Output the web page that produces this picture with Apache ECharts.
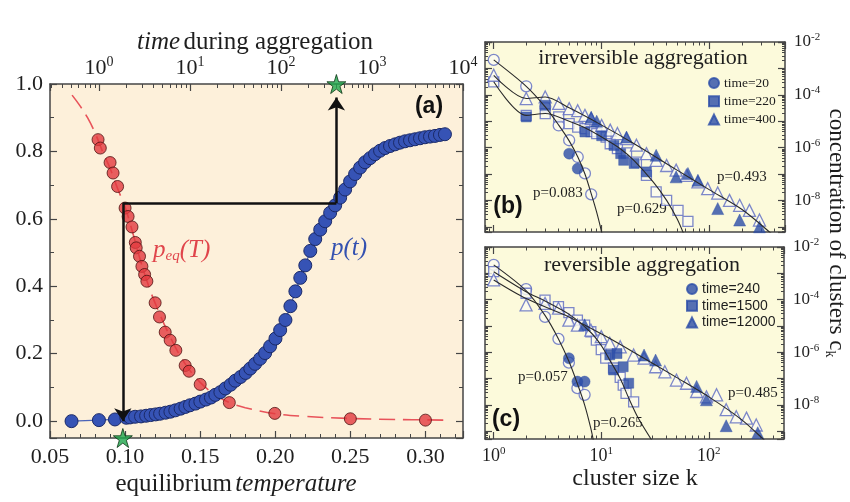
<!DOCTYPE html>
<html>
<head>
<meta charset="utf-8">
<script src="https://cdn.jsdelivr.net/npm/echarts@6/dist/echarts.min.js"></script>
<style>
	html, body { margin: 0; padding: 0; background: #fff; }
	#main { width: 850px; height: 502px; }
</style>
</head>
<body>
<div id="main"></div>
<script>
// panel (a) -- equilibrium p_eq(T)
const tempT = [0.082, 0.0835, 0.090, 0.092, 0.095, 0.100, 0.102, 0.1046, 0.1068, 0.1074, 0.1096, 0.1112, 0.113, 0.1145, 0.120, 0.1229, 0.1267, 0.130, 0.1338, 0.140, 0.1426, 0.150, 0.1694, 0.1997, 0.250, 0.300];
const peqT = [0.835, 0.81, 0.767, 0.736, 0.696, 0.632, 0.607, 0.576, 0.53, 0.514, 0.489, 0.459, 0.435, 0.415, 0.351, 0.309, 0.264, 0.24, 0.21, 0.165, 0.148, 0.109, 0.055, 0.023, 0.007, 0.003];
const peqFitT = [0.0647, 0.07, 0.075, 0.08, 0.085, 0.09, 0.095, 0.1, 0.105, 0.11, 0.115, 0.12, 0.13, 0.14, 0.15, 0.16, 0.17, 0.18, 0.2, 0.22, 0.25, 0.28, 0.315];
const peqFitP = [0.967, 0.935, 0.9, 0.855, 0.8, 0.75, 0.69, 0.635, 0.56, 0.48, 0.41, 0.35, 0.25, 0.17, 0.115, 0.078, 0.054, 0.04, 0.022, 0.014, 0.008, 0.005, 0.003];

// panel (a) -- p(t) during aggregation
const timeT = [0.5, 1, 1.5, 2.0, 2.2, 2.5, 2.9, 3.3, 3.7, 4.2, 4.7, 5.4, 6.1, 6.9, 7.9, 8.9, 10, 11.5, 13, 15, 17, 19, 21.6, 24.5, 28, 31.5, 36, 41, 46, 52, 59, 67, 76, 87, 98, 112, 127, 144, 163, 185, 210, 238, 270, 306, 347, 394, 447, 507, 575, 653, 741, 840, 953, 1081, 1227, 1392, 1579, 1792, 2033, 2307, 2617, 2969, 3369, 3822, 4337, 4920, 5582, 6333];
const pTime = [0, 0.003, 0.005, 0.010, 0.011, 0.013, 0.014, 0.016, 0.018, 0.020, 0.022, 0.025, 0.028, 0.032, 0.037, 0.042, 0.047, 0.052, 0.058, 0.064, 0.070, 0.078, 0.086, 0.097, 0.108, 0.120, 0.131, 0.143, 0.156, 0.170, 0.185, 0.202, 0.222, 0.245, 0.270, 0.300, 0.341, 0.385, 0.425, 0.462, 0.505, 0.540, 0.568, 0.593, 0.618, 0.640, 0.663, 0.687, 0.711, 0.733, 0.752, 0.768, 0.780, 0.792, 0.802, 0.810, 0.816, 0.821, 0.826, 0.830, 0.833, 0.836, 0.839, 0.842, 0.844, 0.846, 0.849, 0.851];

// arrow construction (T of the two verticals, p levels)
const arrowT = [0.0985, 0.2407];
const arrowP = [0.647, 0.0, 0.96];
const starP = [1.0, -0.05];

// panel (b) irreversible aggregation
const bCircK = [1, 2, 3, 4, 5, 6, 7, 8];
const bCircC = [2.1e-3, 2.1e-4, 3.5e-5, 6.9e-6, 1.9e-6, 4.4e-7, 1.05e-7, 1.7e-8];
const bCircFilledK = [5, 6];
const bCircFilledC = [5.9e-7, 1.6e-7];
const bCircFitK = [1, 2, 3, 4, 5, 6, 7, 8, 9, 10, 10.5];
const bCircFitC = [2.1e-3, 2.1e-4, 3.5e-5, 7.1e-6, 1.8e-6, 4.5e-7, 1.0e-7, 1.8e-8, 3.5e-9, 6.3e-10, 2.5e-10];

const bSqK = [1, 2, 3, 4, 5, 6, 7, 8, 9, 11, 12, 14, 17, 21, 26, 32, 40, 51, 63];
const bSqC = [3.1e-4, 1.66e-5, 1.95e-5, 1.45e-5, 8.1e-6, 6.0e-6, 5.2e-6, 4.0e-6, 3.4e-6, 2.5e-6, 1.4e-6, 9.1e-7, 6.3e-7, 2.8e-7, 8.9e-8, 2.1e-8, 1.0e-8, 4.2e-9, 1.6e-9];
const bSqFilledK = [2, 3, 7, 10, 13, 15, 16, 20, 26];
const bSqFilledC = [1.45e-5, 4.0e-5, 3.9e-6, 2.8e-6, 1.2e-6, 5.9e-7, 3.3e-7, 2.5e-7, 1.2e-7];
const bSqFitK = [1, 2, 3, 5, 7, 10, 15, 20, 30, 40, 50, 58];
const bSqFitC = [3.1e-4, 1.66e-5, 1.95e-5, 1.0e-5, 5.6e-6, 2.5e-6, 8.9e-7, 3.2e-7, 5.0e-8, 1.0e-8, 2.0e-9, 5.0e-10];

const bTriK = [1, 2, 3, 4, 5, 6, 7, 8, 10, 12, 14, 17, 21, 26, 32, 40, 49, 61, 78, 96, 119, 153, 190, 234, 290];
const bTriC = [5.5e-4, 7.2e-5, 8.3e-5, 4.7e-5, 3.0e-5, 2.5e-5, 1.66e-5, 1.26e-5, 6.9e-6, 4.6e-6, 3.4e-6, 2.2e-6, 1.23e-6, 5.9e-7, 3.3e-7, 2.1e-7, 1.4e-7, 8.9e-8, 5.0e-8, 2.8e-8, 1.9e-8, 1.0e-8, 6.5e-9, 4.2e-9, 1.8e-9];
const bTriFilledK = [8, 9, 17, 32, 49, 63, 78, 119, 190, 290];
const bTriFilledC = [1.4e-5, 1.0e-5, 2.5e-6, 5.1e-7, 7.8e-8, 1.05e-7, 5.8e-8, 4.9e-9, 1.8e-9, 1.0e-9];
const bTriFitK = [1, 2, 3, 5, 10, 20, 50, 100, 200, 360, 420];
const bTriFitC = [5.5e-4, 7.2e-5, 8.3e-5, 3.2e-5, 7.1e-6, 1.4e-6, 1.4e-7, 2.5e-8, 4.5e-9, 6.3e-10, 3.5e-10];

// panel (c) reversible aggregation
const cCircK = [1, 2, 3, 4, 5, 6, 7];
const cCircC = [2.1e-3, 2.5e-4, 2.2e-5, 3.2e-6, 4.0e-7, 4.3e-8, 2.4e-8];
const cCircFilledK = [5, 6, 7];
const cCircFilledC = [5.9e-7, 7.6e-8, 7.6e-8];
const cCircFitK = [1, 2, 3, 4, 5, 6, 7, 8, 8.6];
const cCircFitC = [2.1e-3, 2.2e-4, 2.5e-5, 3.2e-6, 4.5e-7, 6.3e-8, 1.0e-8, 1.26e-9, 3.0e-10];

const cSqK = [1, 2, 3, 4, 5, 6, 7, 8, 9, 10, 11, 13, 15, 16, 17, 20];
const cSqC = [1.15e-3, 1.74e-4, 9.5e-5, 5.4e-5, 3.2e-5, 1.66e-5, 1.07e-5, 6.0e-6, 2.9e-6, 1.26e-6, 5.9e-7, 2.5e-7, 1.1e-7, 5.6e-8, 2.7e-8, 1.3e-8];
const cSqFilledK = [12, 13, 14, 16, 18];
const cSqFilledC = [7.9e-7, 2.1e-7, 8.9e-7, 2.8e-7, 6.6e-8];
const cSqFitK = [1, 2, 3, 5, 8, 10, 12, 15, 18, 22, 30];
const cSqFitC = [1.15e-3, 2.0e-4, 8.9e-5, 2.8e-5, 5.6e-6, 1.8e-6, 5.0e-7, 1.0e-7, 1.8e-8, 3.2e-9, 4.0e-10];

const cTriK = [1, 2, 3, 4, 5, 6, 8, 10, 12, 15, 20, 25, 32, 39, 50, 62, 77, 95, 118, 145, 180, 224, 276];
const cTriC = [5.6e-4, 6.3e-5, 7.2e-5, 4.7e-5, 1.66e-5, 1.07e-5, 6.9e-6, 3.9e-6, 2.2e-6, 1.6e-6, 7.8e-7, 5.9e-7, 2.8e-7, 1.8e-7, 8.7e-8, 6.6e-8, 3.2e-8, 2.0e-8, 2.4e-8, 6.5e-9, 3.5e-9, 3.1e-9, 1.7e-9];
const cTriFilledK = [7, 25, 32, 77, 95, 145, 285];
const cTriFilledC = [1.1e-5, 7.8e-7, 5.0e-7, 5.0e-8, 1.55e-8, 1.6e-9, 8.7e-10];
const cTriFitK = [1, 2, 5, 10, 20, 50, 100, 200, 320, 380];
const cTriFitC = [5.6e-4, 1.1e-4, 2.2e-5, 5.0e-6, 1.0e-6, 1.1e-7, 2.0e-8, 2.8e-9, 5.0e-10, 2.5e-10];

const legendB = ['time=20', 'time=220', 'time=400'];
const legendC = ['time=240', 'time=1500', 'time=12000'];

// styling
const serif = "Liberation Serif";
const sans = "Liberation Sans";
const frameColor = '#454545';
const textColor = '#1e1e1e';
const openStroke = '#5d6ac2';
const openFill = '#fbfbf0';
const filledBlue = '#2b4ca8';

const zip = (xs, ys) => xs.map((x, i) => [x, ys[i]]);

function frame(extra) {
	return Object.assign({
		axisLine: { show: true, onZero: false, lineStyle: { color: frameColor, width: 1.5 } },
		axisTick: { show: true, inside: true, length: 7, lineStyle: { color: frameColor, width: 1.2 } },
		minorTick: { show: true, length: 3.5, lineStyle: { color: frameColor, width: 1 } },
		splitLine: { show: false },
		axisLabel: { show: false }
	}, extra);
}

function powLabel(evenOnly) {
	return function (v) {
		const e = Math.log10(v);
		const n = Math.round(e);
		if (Math.abs(e - n) > 1e-6) return '';
		if (evenOnly && n % 2 !== 0) return '';
		return '{b|10}{s|' + n + '}';
	};
}

function powRich(size) {
	return {
		b: { fontFamily: serif, fontSize: size, color: textColor },
		s: { fontFamily: serif, fontSize: Math.round(size * 0.62), color: textColor, padding: [0, 0, Math.round(size * 0.55), 0] }
	};
}

const numRich = { t: { fontFamily: serif, fontSize: 22, color: textColor } };

function openSeries(name, symbol, size, data, xi) {
	return {
		name: name, type: 'scatter', xAxisIndex: xi, yAxisIndex: xi,
		symbol: symbol, symbolSize: size, data: data,
		itemStyle: { color: openFill, borderColor: openStroke, borderWidth: 1.3 },
		z: 3
	};
}

function filledSeries(name, symbol, size, data, xi) {
	return {
		name: name, type: 'scatter', xAxisIndex: xi, yAxisIndex: xi,
		symbol: symbol, symbolSize: size, data: data,
		itemStyle: { color: filledBlue, borderColor: filledBlue, borderWidth: 0.5 },
		z: 4
	};
}

function fitSeries(data, xi) {
	return {
		type: 'line', xAxisIndex: xi, yAxisIndex: xi, data: data,
		showSymbol: false, smooth: 0.3, clip: true,
		lineStyle: { color: '#2a2a2a', width: 1.1 },
		z: 5, silent: true
	};
}

const starPath = 'path://M50,0 L61,35 L98,35 L68,57 L79,91 L50,70 L21,91 L32,57 L2,35 L39,35 Z';

const myChart = echarts.init(document.getElementById('main'));

const option = {
	animation: false,
	backgroundColor: '#ffffff',
	textStyle: { fontFamily: serif, color: textColor },
	grid: [
		{ left: 50, top: 84, width: 413, height: 354, show: true, backgroundColor: '#fdf0da', borderWidth: 0 },
		{ left: 485, top: 42, width: 300, height: 190, show: true, backgroundColor: '#fcfadb', borderWidth: 0 },
		{ left: 485, top: 247, width: 299, height: 192, show: true, backgroundColor: '#fcfadb', borderWidth: 0 }
	],
	xAxis: [
		frame({
			gridIndex: 0, type: 'value', position: 'bottom', min: 0.05, max: 0.325, interval: 0.05,
			minorTick: { show: true, splitNumber: 5, length: 4, lineStyle: { color: frameColor, width: 1 } },
			axisLabel: {
				show: true, margin: 8, rich: numRich,
				formatter: (v) => (Math.abs(v * 20 - Math.round(v * 20)) < 1e-6 ? '{t|' + v.toFixed(2) + '}' : '')
			}
		}),
		frame({
			gridIndex: 0, type: 'log', logBase: 10, position: 'top', min: 0.29, max: 10000,
			minorTick: { show: true, splitNumber: 9, length: 4, lineStyle: { color: frameColor, width: 1 } },
			axisLabel: { show: true, margin: 3, formatter: powLabel(false), rich: powRich(22) }
		}),
		frame({ gridIndex: 1, type: 'log', position: 'bottom', min: 0.83, max: 500, minorTick: { show: true, splitNumber: 9, length: 3.5, lineStyle: { color: frameColor } } }),
		frame({ gridIndex: 1, type: 'log', position: 'top', min: 0.83, max: 500, minorTick: { show: true, splitNumber: 9, length: 3.5, lineStyle: { color: frameColor } } }),
		frame({
			gridIndex: 2, type: 'log', position: 'bottom', min: 0.83, max: 500,
			minorTick: { show: true, splitNumber: 9, length: 3.5, lineStyle: { color: frameColor } },
			axisLabel: { show: true, margin: 7, formatter: powLabel(false), rich: powRich(18) }
		}),
		frame({ gridIndex: 2, type: 'log', position: 'top', min: 0.83, max: 500, minorTick: { show: true, splitNumber: 9, length: 3.5, lineStyle: { color: frameColor } } })
	],
	yAxis: [
		frame({
			gridIndex: 0, type: 'value', position: 'left', min: -0.05, max: 1.0,
			minorTick: { show: true, splitNumber: 2, length: 4, lineStyle: { color: frameColor, width: 1 } },
			axisLabel: {
				show: true, margin: 7, rich: numRich,
				formatter: (v) => (v < -0.001 ? '' : '{t|' + v.toFixed(1) + '}')
			}
		}),
		frame({
			gridIndex: 0, type: 'value', position: 'right', min: -0.05, max: 1.0,
			minorTick: { show: true, splitNumber: 2, length: 4, lineStyle: { color: frameColor, width: 1 } }
		}),
		frame({
			gridIndex: 1, type: 'log', position: 'right', min: 6.35e-10, max: 0.01,
			minorTick: { show: true, splitNumber: 9, length: 3, lineStyle: { color: frameColor } },
			axisLabel: { show: true, margin: 9, formatter: powLabel(true), rich: powRich(17) }
		}),
		frame({ gridIndex: 1, type: 'log', position: 'left', min: 6.35e-10, max: 0.01, minorTick: { show: true, splitNumber: 9, length: 3, lineStyle: { color: frameColor } } }),
		frame({
			gridIndex: 2, type: 'log', position: 'right', min: 5.0e-10, max: 0.01,
			minorTick: { show: true, splitNumber: 9, length: 3, lineStyle: { color: frameColor } },
			axisLabel: { show: true, margin: 9, formatter: powLabel(true), rich: powRich(17) }
		}),
		frame({ gridIndex: 2, type: 'log', position: 'left', min: 5.0e-10, max: 0.01, minorTick: { show: true, splitNumber: 9, length: 3, lineStyle: { color: frameColor } } })
	],
	legend: [
		{
			data: legendB, left: 708, top: 76, orient: 'vertical', itemWidth: 10, itemHeight: 10, itemGap: 4.3,
			selectedMode: false, padding: 0,
			formatter: (name) => '{t|' + name + '}',
			textStyle: { rich: { t: { fontFamily: serif, fontSize: 13.5, lineHeight: 14, color: textColor } } }
		},
		{
			data: legendC, left: 686, top: 282, orient: 'vertical', itemWidth: 10, itemHeight: 10, itemGap: 2.8,
			selectedMode: false, padding: 0,
			formatter: (name) => '{t|' + name + '}',
			textStyle: { rich: { t: { fontFamily: sans, fontSize: 14, lineHeight: 14, color: textColor } } }
		}
	],
	series: [
		// panel (a)
		{
			type: 'line', xAxisIndex: 0, yAxisIndex: 0, data: zip(peqFitT, peqFitP),
			showSymbol: false, smooth: 0.4, silent: true,
			lineStyle: { color: '#e8535a', width: 1.6, type: [16, 8] }, z: 2
		},
		{
			type: 'scatter', xAxisIndex: 0, yAxisIndex: 0, data: zip(tempT, peqT),
			symbol: 'circle', symbolSize: 12,
			itemStyle: { color: '#e2393f', borderColor: '#4d1212', borderWidth: 1 }, z: 3
		},
		{
			type: 'line', xAxisIndex: 1, yAxisIndex: 0, data: zip(timeT, pTime),
			symbol: 'circle', symbolSize: 13, showAllSymbol: true,
			lineStyle: { color: '#4a63b8', width: 1.2 },
			itemStyle: { color: '#3653b5', borderColor: '#1b2a68', borderWidth: 1 }, z: 4
		},
		{
			type: 'lines', coordinateSystem: 'cartesian2d', xAxisIndex: 0, yAxisIndex: 0, silent: true,
			lineStyle: { color: '#111', width: 2.5, opacity: 1 },
			data: [{ coords: [[arrowT[0], arrowP[0]], [arrowT[1], arrowP[0]]] }], z: 6
		},
		{
			type: 'lines', coordinateSystem: 'cartesian2d', xAxisIndex: 0, yAxisIndex: 0, silent: true,
			symbol: ['none', 'arrow'], symbolSize: 13,
			lineStyle: { color: '#111', width: 2.5, opacity: 1 },
			data: [
				{ coords: [[arrowT[0], arrowP[0]], [arrowT[0], arrowP[1]]] },
				{ coords: [[arrowT[1], arrowP[0]], [arrowT[1], arrowP[2]]] }
			], z: 6
		},
		{
			type: 'scatter', xAxisIndex: 0, yAxisIndex: 0, clip: false,
			data: [[arrowT[1], starP[0]], [arrowT[0], starP[1]]],
			symbol: starPath, symbolSize: 19,
			itemStyle: { color: '#1ea64b', borderColor: '#0b3514', borderWidth: 1 }, z: 10
		},

		// panel (b)
		openSeries('open20', 'circle', 11, zip(bCircK, bCircC), 2),
		openSeries('open220', 'rect', 10, zip(bSqK, bSqC), 2),
		openSeries('open400', 'triangle', 12, zip(bTriK, bTriC), 2),
		filledSeries(legendB[0], 'circle', 11, zip(bCircFilledK, bCircFilledC), 2),
		filledSeries(legendB[1], 'rect', 10, zip(bSqFilledK, bSqFilledC), 2),
		filledSeries(legendB[2], 'triangle', 12, zip(bTriFilledK, bTriFilledC), 2),
		fitSeries(zip(bCircFitK, bCircFitC), 2),
		fitSeries(zip(bSqFitK, bSqFitC), 2),
		fitSeries(zip(bTriFitK, bTriFitC), 2),

		// panel (c)
		openSeries('open240', 'circle', 11, zip(cCircK, cCircC), 4),
		openSeries('open1500', 'rect', 10, zip(cSqK, cSqC), 4),
		openSeries('open12000', 'triangle', 12, zip(cTriK, cTriC), 4),
		filledSeries(legendC[0], 'circle', 11, zip(cCircFilledK, cCircFilledC), 4),
		filledSeries(legendC[1], 'rect', 10, zip(cSqFilledK, cSqFilledC), 4),
		filledSeries(legendC[2], 'triangle', 12, zip(cTriFilledK, cTriFilledC), 4),
		fitSeries(zip(cCircFitK, cCircFitC), 4),
		fitSeries(zip(cSqFitK, cSqFitC), 4),
		fitSeries(zip(cTriFitK, cTriFitC), 4)
	],
	graphic: [
		{
			type: 'text', x: 255, y: 42,
			style: {
				text: '{i|time} {r|during aggregation}', align: 'center', verticalAlign: 'middle',
				rich: {
					i: { fontFamily: serif, fontSize: 25, fontStyle: 'italic', fill: textColor },
					r: { fontFamily: serif, fontSize: 25, fill: textColor }
				}
			}
		},
		{
			type: 'text', x: 236, y: 484,
			style: {
				text: '{r|equilibrium} {i|temperature}', align: 'center', verticalAlign: 'middle',
				rich: {
					i: { fontFamily: serif, fontSize: 25, fontStyle: 'italic', fill: textColor },
					r: { fontFamily: serif, fontSize: 25, fill: textColor }
				}
			}
		},
		{
			type: 'text', x: 429, y: 107,
			style: { text: '(a)', font: 'bold 23px ' + sans, fill: '#111', align: 'center', verticalAlign: 'middle' }
		},
		{
			type: 'text', x: 153, y: 250,
			style: {
				text: '{i|p}{s|eq}{i|(T)}', align: 'left', verticalAlign: 'middle',
				rich: {
					i: { fontFamily: serif, fontSize: 25, fontStyle: 'italic', fill: '#e0454b' },
					s: { fontFamily: serif, fontSize: 15, fontStyle: 'italic', fill: '#e0454b', padding: [12, 0, 0, 0] }
				}
			}
		},
		{
			type: 'text', x: 331, y: 248,
			style: {
				text: 'p(t)', font: 'italic 25px ' + serif, fill: '#3451b0', align: 'left', verticalAlign: 'middle'
			}
		},
		{
			type: 'text', x: 643, y: 58,
			style: { text: 'irreversible aggregation', font: '22px ' + serif, fill: textColor, align: 'center', verticalAlign: 'middle' }
		},
		{
			type: 'text', x: 642, y: 265,
			style: { text: 'reversible aggregation', font: '22px ' + serif, fill: textColor, align: 'center', verticalAlign: 'middle' }
		},
		{
			type: 'text', x: 508, y: 207,
			style: { text: '(b)', font: 'bold 23px ' + sans, fill: '#111', align: 'center', verticalAlign: 'middle' }
		},
		{
			type: 'text', x: 506, y: 420,
			style: { text: '(c)', font: 'bold 23px ' + sans, fill: '#111', align: 'center', verticalAlign: 'middle' }
		},
		{ type: 'text', x: 533, y: 193, style: { text: 'p=0.083', font: '15px ' + serif, fill: textColor, align: 'left', verticalAlign: 'middle' } },
		{ type: 'text', x: 617, y: 209, style: { text: 'p=0.629', font: '15px ' + serif, fill: textColor, align: 'left', verticalAlign: 'middle' } },
		{ type: 'text', x: 717, y: 177, style: { text: 'p=0.493', font: '15px ' + serif, fill: textColor, align: 'left', verticalAlign: 'middle' } },
		{ type: 'text', x: 518, y: 377, style: { text: 'p=0.057', font: '15px ' + serif, fill: textColor, align: 'left', verticalAlign: 'middle' } },
		{ type: 'text', x: 593, y: 423, style: { text: 'p=0.265', font: '15px ' + serif, fill: textColor, align: 'left', verticalAlign: 'middle' } },
		{ type: 'text', x: 728, y: 393, style: { text: 'p=0.485', font: '15px ' + serif, fill: textColor, align: 'left', verticalAlign: 'middle' } },
		{
			type: 'text', x: 635, y: 479,
			style: { text: 'cluster size k', font: '24px ' + serif, fill: textColor, align: 'center', verticalAlign: 'middle' }
		},
		{
			type: 'text', x: 836, y: 233, rotation: -Math.PI / 2,
			style: {
				text: '{m|concentration of clusters c}{k|k}', align: 'center', verticalAlign: 'middle',
				rich: {
					m: { fontFamily: serif, fontSize: 23, fill: textColor },
					k: { fontFamily: serif, fontSize: 14, fill: textColor, padding: [12, 0, 0, 0] }
				}
			}
		}
	]
};

myChart.setOption(option);
</script>
</body>
</html>
